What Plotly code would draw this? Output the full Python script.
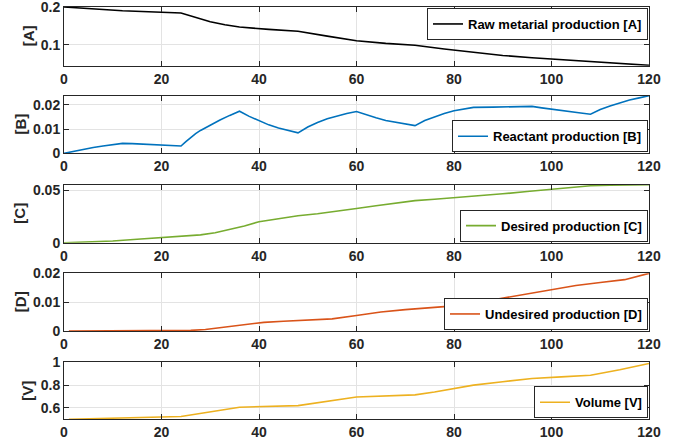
import plotly.graph_objects as go

# ---------------- data ----------------
t_A = [0, 12, 24, 27, 30, 33, 36, 42, 48, 54, 60, 66, 72, 78, 84, 90, 96, 102, 108, 114, 120]
A = [0.200, 0.190, 0.184, 0.172, 0.161, 0.153, 0.147, 0.141, 0.136, 0.123, 0.111, 0.104,
     0.099, 0.089, 0.080, 0.072, 0.066, 0.061, 0.057, 0.052, 0.046]

t_B = [0, 2, 4, 6, 8, 10, 12, 14, 16, 18, 20, 22, 24, 25, 26, 27, 28, 30, 32, 34, 36,
       38, 40, 42, 44, 46, 48, 50, 52, 54, 56, 58, 60, 62, 64, 66, 68, 70, 72,
       74, 76, 78, 80, 82, 84, 88, 92, 96, 98, 100, 102, 104, 106, 108,
       110, 112, 114, 116, 118, 120]
B = [0, 0.0009, 0.0017, 0.0024, 0.0030, 0.0036, 0.0041, 0.0040, 0.0038, 0.0036, 0.0034, 0.0032,
     0.0030, 0.0048, 0.0066, 0.0081, 0.0094, 0.0117, 0.0137, 0.0156, 0.0173,
     0.0152, 0.0133, 0.0117, 0.0104, 0.0093, 0.0084, 0.0108, 0.0127, 0.0142, 0.0154, 0.0164, 0.0172,
     0.0158, 0.0146, 0.0135, 0.0127, 0.0120, 0.0114,
     0.0135, 0.0151, 0.0164, 0.0175, 0.0183, 0.0189, 0.0190, 0.0191, 0.0193,
     0.0187, 0.0181, 0.0176, 0.0171, 0.0166, 0.0161,
     0.0180, 0.0195, 0.0208, 0.0219, 0.0228, 0.0237]

t_C = [0, 5, 10, 15, 20, 25, 28, 31, 34, 37, 40, 44, 48, 52, 56, 60, 64, 68, 72, 76, 80,
       85, 90, 95, 100, 104, 108, 112, 116, 120]
C = [0, 0.0006, 0.0016, 0.0033, 0.0048, 0.0062, 0.0075, 0.0095, 0.0125, 0.0160, 0.0200,
     0.0232, 0.0257, 0.0276, 0.0298, 0.0326, 0.0352, 0.0380, 0.0401, 0.0414, 0.0428,
     0.0446, 0.0466, 0.0488, 0.0509, 0.0527, 0.0543, 0.0549, 0.0551, 0.0552]

t_D = [1, 10, 20, 26, 29, 32, 35, 38, 41, 45, 50, 55, 60, 65, 70, 75, 80, 85, 90, 95, 100,
       105, 110, 115, 120]
D = [0, 0, 0.0001, 0.0002, 0.0005, 0.0011, 0.0018, 0.0025, 0.0030, 0.0034, 0.0037, 0.0042,
     0.0054, 0.0066, 0.0074, 0.0080, 0.0087, 0.0099, 0.0114, 0.0130, 0.0145, 0.0158,
     0.0168, 0.0178, 0.0200]

t_V = [1, 12, 24, 36, 48, 60, 72, 76, 80, 84, 90, 96, 102, 108, 114, 120]
V = [0.500, 0.514, 0.525, 0.606, 0.620, 0.695, 0.714, 0.740, 0.770, 0.800, 0.830, 0.858,
     0.872, 0.887, 0.935, 0.990]

names = ["Raw metarial production [A]", "Reactant production [B]", "Desired production [C]",
         "Undesired production [D]", "Volume [V]"]
ylabels = ["[A]", "[B]", "[C]", "[D]", "[V]"]
colors = ["#000000", "#0072BD", "#77AC30", "#D95319", "#EDB120"]
yranges = [[0.045, 0.2], [0, 0.0237], [0, 0.0553], [0, 0.02], [0.5, 1.0]]
ytickvals = [[0.1, 0.2], [0, 0.01, 0.02], [0, 0.05], [0, 0.01, 0.02], [0.6, 0.8, 1.0]]
xtickvals = [0, 20, 40, 60, 80, 100, 120]

series = [(t_A, A), (t_B, B), (t_C, C), (t_D, D), (t_V, V)]

# ---------------- layout geometry (pixels) ----------------
W, H = 683, 447
left_px, right_px = 64, 649
tops = [7, 95.7, 184.7, 273.3, 362.3]
bots = [65.7, 153.3, 242.7, 331, 419.3]
ylab_x = [28, 20, 20, 20, 28]

FONT = "Liberation Sans, Arial, Helvetica, sans-serif"
AX = "#262626"

fig = go.Figure()
layout = dict(
    template="none",
    width=W, height=H,
    margin=dict(l=0, r=0, t=0, b=0, pad=0, autoexpand=False),
    paper_bgcolor="white", plot_bgcolor="white",
    font=dict(family=FONT, color=AX),
)
annotations = []
for i, ((tx, ty), name, col) in enumerate(zip(series, names, colors)):
    k = "" if i == 0 else str(i + 1)
    leg = "legend" + k
    fig.add_trace(go.Scatter(x=tx, y=ty, mode="lines", name=name,
                             line=dict(color=col, width=1.6),
                             xaxis="x" + k, yaxis="y" + k, legend=leg, showlegend=True))
    ydom = [1 - bots[i] / H, 1 - tops[i] / H]
    layout["xaxis" + k] = dict(
        domain=[left_px / W, right_px / W], anchor="y" + k, range=[0, 120],
        automargin=False, ticklabeloverflow="allow",
        tickvals=xtickvals, ticks="inside", ticklen=5, tickcolor=AX,
        showline=True, linecolor=AX, linewidth=1, mirror="ticks",
        showgrid=True, gridcolor="#e3e3e3", gridwidth=1, zeroline=False,
        tickfont=dict(family=FONT, size=14, color=AX, weight="bold"),
    )
    layout["yaxis" + k] = dict(
        domain=ydom, anchor="x" + k, range=yranges[i],
        automargin=False, ticklabeloverflow="allow",
        tickvals=ytickvals[i], ticks="inside", ticklen=5, tickcolor=AX,
        showline=True, linecolor=AX, linewidth=1, mirror="ticks",
        showgrid=True, gridcolor="#e3e3e3", gridwidth=1, zeroline=False,
        tickfont=dict(family=FONT, size=14, color=AX, weight="bold"),
    )
    legdict = dict(
        x=(right_px - 1) / W, xanchor="right",
        bgcolor="white", bordercolor=AX, borderwidth=1,
        font=dict(family=FONT, size=13, color="#000000", weight="bold"),
        itemwidth=30, tracegroupgap=0,
    )
    if i == 0:
        legdict.update(y=1 - (tops[i] + 1) / H, yanchor="top")
    else:
        legdict.update(y=1 - (bots[i] - 1) / H, yanchor="bottom")
    layout[leg] = legdict
    annotations.append(dict(
        text=ylabels[i], xref="paper", yref="paper",
        x=ylab_x[i] / W, y=1 - (tops[i] + bots[i]) / 2 / H,
        xanchor="center", yanchor="middle", textangle=-90, showarrow=False,
        font=dict(family=FONT, size=15, color=AX, weight="bold"),
    ))
layout["annotations"] = annotations
fig.update_layout(**layout)
fig.write_html("out.html", config={"displayModeBar": False},
               post_script="document.body.style.margin='0px';document.body.style.padding='0px';")
